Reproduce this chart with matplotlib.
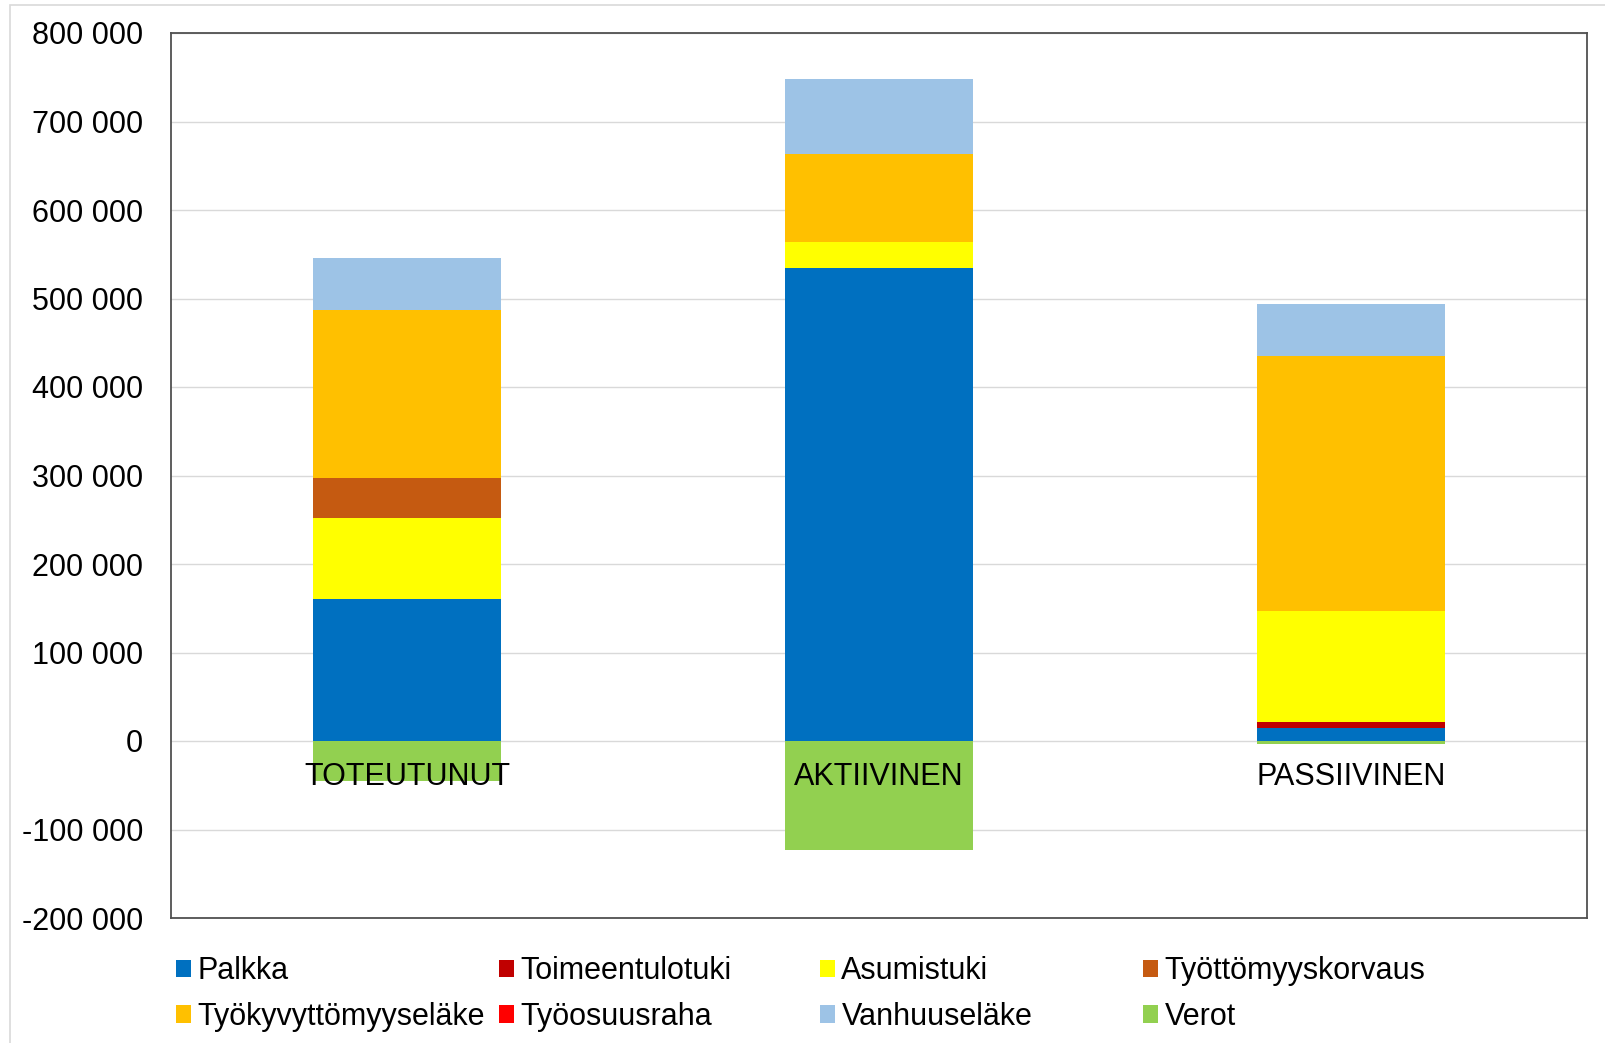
import matplotlib
matplotlib.use("Agg")
import matplotlib.pyplot as plt
from matplotlib.patches import Patch, Rectangle
from matplotlib.ticker import FuncFormatter, MultipleLocator

plt.rcParams['font.family'] = ['Liberation Sans', 'DejaVu Sans']

categories = ["TOTEUTUNUT", "AKTIIVINEN", "PASSIIVINEN"]
series_names = ["Palkka", "Toimeentulotuki", "Asumistuki", "Työttömyyskorvaus",
                "Työkyvyttömyyseläke", "Työosuusraha", "Vanhuuseläke", "Verot"]
palkka = [160000, 534000, 15000]
toimeentulotuki = [1000, 0, 6000]
asumistuki = [91000, 30000, 126000]
tyottomyyskorvaus = [45000, 0, 0]
tyokyvyttomyyselake = [190000, 99000, 288000]
tyoosuusraha = [0, 0, 0]
vanhuuselake = [59000, 85000, 59000]
verot = [-45000, -123000, -3000]

colors = ["#0070C0", "#C00000", "#FFFF00", "#C55A11",
          "#FFC000", "#FF0000", "#9DC3E6", "#92D050"]

positive = [palkka, toimeentulotuki, asumistuki, tyottomyyskorvaus,
            tyokyvyttomyyselake, tyoosuusraha, vanhuuselake]

fig = plt.figure(figsize=(16.06, 10.43), dpi=100)
ax = fig.add_axes([171/1606, 1 - 918/1043, (1587 - 171)/1606, (918 - 33)/1043])

x = list(range(len(categories)))
width = 0.4
bottom = [0.0] * len(categories)
for vals, col in zip(positive, colors[:7]):
    ax.bar(x, vals, width, bottom=bottom, color=col, zorder=2, linewidth=0)
    bottom = [b + v for b, v in zip(bottom, vals)]
ax.bar(x, verot, width, color=colors[7], zorder=2, linewidth=0)

ax.set_xlim(-0.5, 2.5)
ax.set_ylim(-200000, 800000)
ax.yaxis.set_major_locator(MultipleLocator(100000))
ax.yaxis.set_major_formatter(FuncFormatter(lambda v, p: f"{v:,.0f}".replace(",", " ")))
ax.grid(axis='y', color='#D9D9D9', linewidth=1.0, zorder=0)
ax.set_xticks([])
ax.tick_params(axis='y', length=0, pad=20, labelsize=22, labelcolor='black')
for s in ax.spines.values():
    s.set_color('#505050')
    s.set_linewidth(1.3)

for i, c in enumerate(categories):
    ax.text(i, -41000, c, ha='center', va='center', fontsize=22, color='black', zorder=3)

# legend in 4 columns, row-wise order
handles = [Patch(facecolor=c, edgecolor='none') for c in colors]
col_x = [176/1606, 499/1606, 820/1606, 1143/1606]
for j in range(4):
    idx = [j, j + 4]
    leg = fig.legend([handles[k] for k in idx], [series_names[k] for k in idx],
                     loc='center left', bbox_to_anchor=(col_x[j], 1 - 994/1043),
                     frameon=False, fontsize=22, ncol=1,
                     handlelength=0.5, handleheight=0.5, handletextpad=0.2,
                     labelspacing=0.52, borderpad=0, borderaxespad=0)

# outer light frame
fig.patches.append(Rectangle((10/1606, -0.01), 1.02, 1 - 5/1043 + 0.01,
                             transform=fig.transFigure, fill=False,
                             edgecolor='#D9D9D9', linewidth=1.2))

fig.savefig("out.png", dpi=100)
